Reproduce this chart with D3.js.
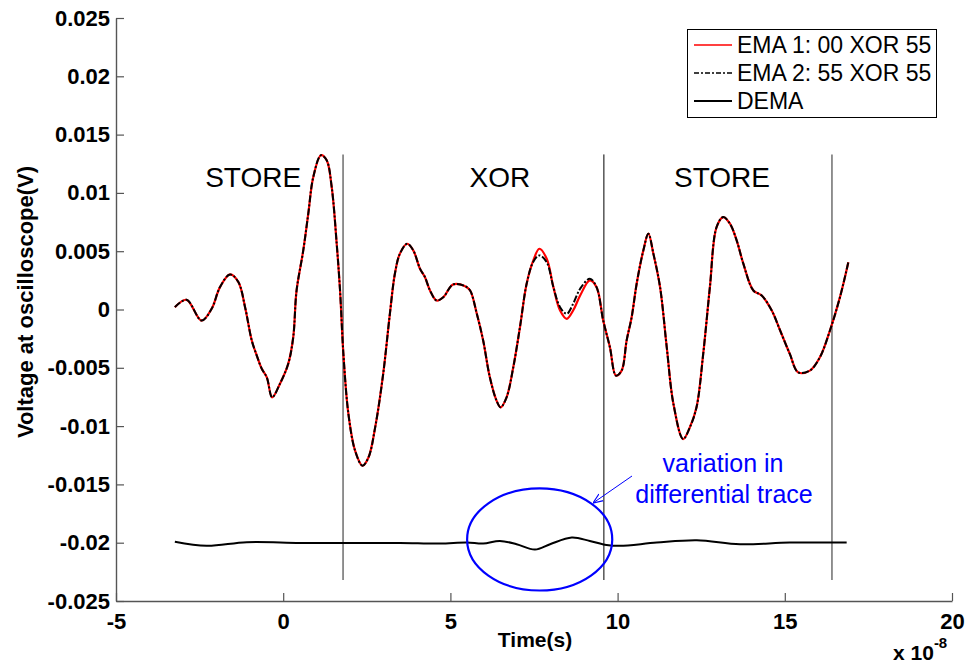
<!DOCTYPE html>
<html>
<head>
<meta charset="utf-8">
<script src="https://cdn.jsdelivr.net/npm/d3@7"></script>
<style>
  html, body { margin: 0; padding: 0; background: #fff; }
  svg { display: block; font-family: "Liberation Sans", Arial, sans-serif; }
</style>
</head>
<body>
<svg id="chart" width="969" height="664"></svg>
<script>
// Time samples in units of 1e-8 s (axis carries the "x 10^-8" multiplier)
const emaTime = [-3.24,-2.89,-2.44,-2.14,-1.89,-1.59,-1.34,-1.14,-0.94,-0.79,-0.64,-0.49,-0.33,-0.10,0.15,0.30,0.40,0.60,0.75,0.90,
  1.13,1.30,1.45,1.60,1.70,1.80,1.95,2.15,2.37,2.55,2.75,2.99,3.19,3.34,3.49,3.71,3.89,4.09,4.24,4.39,
  4.59,4.79,5.08,5.44,5.59,5.79,5.98,6.18,6.38,6.50,6.68,6.88,7.08,7.28,7.48,7.66,7.88,8.08,8.28,8.48,
  8.67,8.88,9.17,9.37,9.57,9.77,9.95,10.12,10.27,10.42,10.57,10.77,10.92,11.07,11.27,11.47,11.67,11.96,12.16,12.36,
  12.56,12.76,12.96,13.16,13.36,13.56,13.76,14.06,14.31,14.61,14.86,15.15,15.40,15.75,16.05,16.35,16.65,16.90];

// EMA 1: 00 XOR 55 (volts)
const ema1 = [0.00020,0.00083,-0.00095,0.00006,0.00192,0.00301,0.00235,0.00020,-0.00266,-0.00395,-0.00509,-0.00582,-0.00753,-0.00638,-0.00466,-0.00238,0.00163,0.00507,0.00822,0.01137,
  0.01323,0.01280,0.01051,0.00564,0.00163,-0.00381,-0.00896,-0.01211,-0.01340,-0.01269,-0.01011,-0.00552,-0.00037,0.00307,0.00479,0.00564,0.00507,0.00350,0.00277,0.00163,
  0.00077,0.00106,0.00215,0.00200,0.00163,-0.00037,-0.00266,-0.00582,-0.00782,-0.00839,-0.00753,-0.00496,-0.00152,0.00221,0.00421,0.00521,0.00436,0.00192,-0.00009,-0.00080,
  -0.00009,0.00120,0.00249,0.00192,-0.00095,-0.00324,-0.00567,-0.00524,-0.00266,-0.00066,0.00221,0.00507,0.00650,0.00479,0.00192,-0.00324,-0.00810,-0.01111,-0.01011,-0.00839,
  -0.00381,0.00192,0.00707,0.00793,0.00736,0.00593,0.00393,0.00163,0.00120,-0.00009,-0.00180,-0.00381,-0.00539,-0.00524,-0.00410,-0.00180,0.00106,0.00406];

// EMA 2: 55 XOR 55 (volts)
const ema2 = [0.00020,0.00083,-0.00095,0.00006,0.00192,0.00301,0.00235,0.00020,-0.00266,-0.00395,-0.00509,-0.00582,-0.00753,-0.00638,-0.00466,-0.00238,0.00163,0.00507,0.00822,0.01137,
  0.01323,0.01280,0.01051,0.00564,0.00163,-0.00381,-0.00896,-0.01211,-0.01340,-0.01269,-0.01011,-0.00552,-0.00037,0.00307,0.00479,0.00564,0.00507,0.00350,0.00277,0.00163,
  0.00077,0.00106,0.00215,0.00200,0.00163,-0.00037,-0.00266,-0.00582,-0.00782,-0.00839,-0.00753,-0.00496,-0.00152,0.00221,0.00410,0.00464,0.00406,0.00192,0.00020,-0.00037,
  0.00049,0.00178,0.00264,0.00192,-0.00095,-0.00324,-0.00567,-0.00524,-0.00266,-0.00066,0.00221,0.00507,0.00650,0.00479,0.00192,-0.00324,-0.00810,-0.01111,-0.01011,-0.00839,
  -0.00381,0.00192,0.00707,0.00793,0.00736,0.00593,0.00393,0.00163,0.00120,-0.00009,-0.00180,-0.00381,-0.00539,-0.00524,-0.00410,-0.00180,0.00106,0.00406];

// Differential trace (offset to -0.02 V)
const demaTime = [-3.24,-2.29,-1.09,0.50,2.00,3.49,4.69,5.49,5.98,6.48,6.98,7.53,7.98,8.63,9.17,9.67,10.07,11.17,12.37,13.66,15.15,16.85];
const dema = [-0.01991,-0.02027,-0.01996,-0.02002,-0.02003,-0.02002,-0.02007,-0.01998,-0.02007,-0.01985,-0.02013,-0.02059,-0.02013,-0.01956,-0.01985,-0.02019,-0.02027,-0.01999,-0.01979,-0.02013,-0.01999,-0.01999];

// Phase boundaries and labels
const boundaryTimes = [1.79, 9.59, 16.41];
const boundaryColors = ["#777", "#000", "#777"];
const boundarySpan = [0.0133, -0.0232];
const phaseLabels = ["STORE", "XOR", "STORE"];
const phaseLabelTimes = [-0.90, 6.48, 13.12];
const phaseLabelLevel = 0.0105;

const xTicks = [-5, 0, 5, 10, 15, 20];
const yTicks = [-0.025, -0.02, -0.015, -0.01, -0.005, 0, 0.005, 0.01, 0.015, 0.02, 0.025];

const legendNames = ["EMA 1: 00 XOR 55", "EMA 2: 55 XOR 55", "DEMA"];

// Highlight ellipse around the differential variation
const highlight = { t: 7.67, v: -0.01972, rt: 2.17, rv: 0.00438 };

const svg = d3.select("#chart");
const x = d3.scaleLinear().domain([-5, 20]).range([116, 952]);
const y = d3.scaleLinear().domain([-0.025, 0.025]).range([601, 18]);

const axisColor = "#555";

// Axes
const xAxis = svg.append("g").attr("transform", `translate(0,${y(-0.025)})`)
  .call(d3.axisBottom(x).tickValues(xTicks).tickSizeInner(-8).tickSizeOuter(0).tickPadding(12).tickFormat(d => String(d)));
const yAxis = svg.append("g").attr("transform", `translate(${x(-5)},0)`)
  .call(d3.axisLeft(y).tickValues(yTicks).tickSizeInner(-8).tickSizeOuter(0).tickPadding(6)
    .tickFormat(d => d === 0 ? "0" : String(+d.toFixed(3))));
[xAxis, yAxis].forEach(g => {
  g.select(".domain").attr("stroke", axisColor).attr("stroke-width", 1.4);
  g.selectAll(".tick line").attr("stroke", axisColor).attr("stroke-width", 1.2);
  g.selectAll(".tick text").attr("fill", "#000").style("font-size", "22px").style("font-weight", "bold")
    .style("font-family", "'Liberation Sans', Arial, sans-serif");
});
xAxis.selectAll(".tick text").attr("dy", "0.71em");

// Axis titles
svg.append("text").attr("x", 535).attr("y", 647).attr("text-anchor", "middle")
  .style("font-size", "21px").style("font-weight", "bold").text("Time(s)");
const mult = svg.append("text").attr("x", 893).attr("y", 660)
  .style("font-size", "21px").style("font-weight", "bold");
mult.append("tspan").text("x 10");
mult.append("tspan").attr("dy", -12).style("font-size", "15px").text("-8");
svg.append("text").attr("transform", "translate(33,302) rotate(-90)").attr("text-anchor", "middle")
  .style("font-size", "22px").style("font-weight", "bold").text("Voltage at oscilloscope(V)");

// Phase boundaries
svg.append("g").selectAll("line").data(boundaryTimes).join("line")
  .attr("x1", d => x(d)).attr("x2", d => x(d))
  .attr("y1", y(boundarySpan[0])).attr("y2", y(boundarySpan[1]))
  .attr("stroke", (d, i) => boundaryColors[i]).attr("stroke-width", (d, i) => i === 1 ? 1 : 1.6);

svg.append("g").selectAll("text").data(phaseLabels).join("text")
  .attr("x", (d, i) => x(phaseLabelTimes[i])).attr("y", y(phaseLabelLevel))
  .attr("text-anchor", "middle").style("font-size", "28px").text(d => d);

// Traces
const line = (ts) => d3.line().x((d, i) => x(ts[i])).y(d => y(d)).curve(d3.curveCatmullRom.alpha(0.5));
svg.append("path").datum(ema1).attr("d", line(emaTime)).attr("fill", "none")
  .attr("stroke", "#ff0000").attr("stroke-width", 2.2);
svg.append("path").datum(ema2).attr("d", line(emaTime)).attr("fill", "none")
  .attr("stroke", "#000").attr("stroke-width", 2).attr("stroke-dasharray", "7,2,2,2");
svg.append("path").datum(dema).attr("d", line(demaTime)).attr("fill", "none")
  .attr("stroke", "#000").attr("stroke-width", 2);

// Annotation
const blue = "#0000ff";
svg.append("ellipse").attr("cx", x(highlight.t)).attr("cy", y(highlight.v))
  .attr("rx", x(highlight.t + highlight.rt) - x(highlight.t))
  .attr("ry", y(highlight.v - highlight.rv) - y(highlight.v))
  .attr("fill", "none").attr("stroke", blue).attr("stroke-width", 2.2);
svg.append("defs").append("marker").attr("id", "arrow").attr("viewBox", "0 0 10 10")
  .attr("refX", 10).attr("refY", 5).attr("markerWidth", 10).attr("markerHeight", 10)
  .attr("markerUnits", "userSpaceOnUse").attr("orient", "auto")
  .append("path").attr("d", "M0,1 L10,5 L0,9").attr("fill", "none").attr("stroke", blue).attr("stroke-width", 1.2);
svg.append("line").attr("x1", 632).attr("y1", 476).attr("x2", 593).attr("y2", 503)
  .attr("stroke", blue).attr("stroke-width", 1).attr("marker-end", "url(#arrow)");
svg.append("text").attr("x", 723).attr("y", 472).attr("text-anchor", "middle")
  .attr("fill", blue).style("font-size", "25px").text("variation in");
svg.append("text").attr("x", 724).attr("y", 503).attr("text-anchor", "middle")
  .attr("fill", blue).style("font-size", "25px").text("differential trace");

// Legend
const lg = svg.append("g");
lg.append("rect").attr("x", 687.5).attr("y", 29.5).attr("width", 249).attr("height", 88)
  .attr("fill", "#fff").attr("stroke", "#000").attr("stroke-width", 1);
const legendStyles = [
  { stroke: "#ff0000", dash: null },
  { stroke: "#000", dash: "5,2,2,2" },
  { stroke: "#000", dash: null }
];
legendNames.forEach((name, i) => {
  const cy = 45 + i * 28;
  lg.append("line").attr("x1", 694).attr("x2", 732).attr("y1", cy).attr("y2", cy)
    .attr("stroke", legendStyles[i].stroke).attr("stroke-width", i === 2 ? 2 : 1.6)
    .attr("stroke-dasharray", legendStyles[i].dash);
  lg.append("text").attr("x", 737).attr("y", cy + 8).style("font-size", "23px").text(name);
});
</script>
</body>
</html>
